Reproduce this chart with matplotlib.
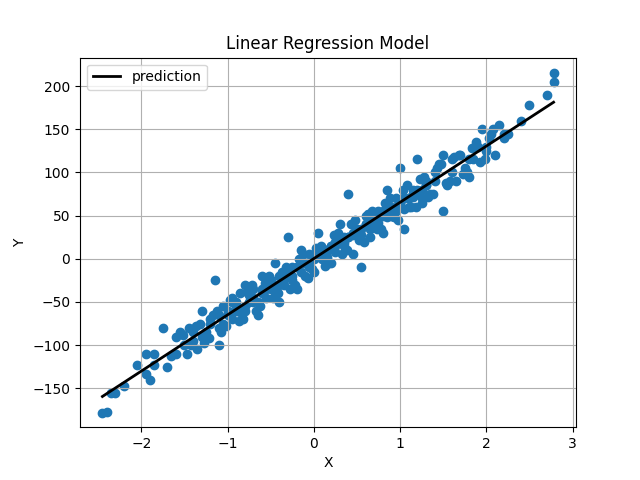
import matplotlib
matplotlib.use("Agg")
import matplotlib.pyplot as plt
import numpy as np

x_vals = [-2.45,-2.4,-2.35,-2.3,-2.2,-2.05,-1.95,-1.95,-1.9,-1.85,-1.85,-1.75,-1.7,-1.65,-1.6,-1.55,-1.5,-1.45,-1.4,-1.35,-1.3,-1.25,-1.2,-1.15,-1.1,-1.05,-1.0,-0.95,-0.9,-0.85,-0.8,-0.75,-0.7,-0.65,-0.6,-0.55,-0.5,-0.45,-0.4,-0.35,-0.3,-0.25,-0.2,-0.15,-0.1,-0.05,0.0,0.05,0.1,0.15,0.2,0.25,0.3,0.35,0.4,0.45,0.5,0.55,0.6,0.65,0.7,0.75,0.8,0.85,0.9,0.95,1.0,1.05,1.1,1.15,1.2,1.25,1.3,1.35,1.4,1.45,1.5,1.5,1.55,1.6,1.65,1.7,1.75,1.8,1.85,1.9,1.95,2.0,2.05,2.1,2.15,2.2,2.25,2.4,2.5,2.7,2.78,2.78,
          -1.6,-1.4,-1.3,-1.2,-1.1,-1.0,-0.95,-0.9,-0.8,-0.75,-0.7,-0.6,-0.55,-0.5,-0.45,-0.4,-0.35,-0.3,-0.25,-0.2,-0.15,-0.1,-0.05,0.0,0.05,0.1,0.15,0.2,0.25,0.3,0.35,0.4,0.45,0.5,0.55,0.6,0.65,0.7,0.75,0.8,0.85,0.9,0.95,1.0,1.05,1.1,1.15,1.2,1.25,1.3,1.4,1.6,1.8,2.0,2.2,
          -1.1,-0.9,-0.7,-0.5,-0.3,-0.1,0.1,0.3,0.5,0.7,0.9,1.1,1.3,-0.8,-0.6,-0.4,-0.2,0.0,0.2,0.4,0.6,0.8,1.0,1.2,
          -1.52,-1.42,-1.32,-1.22,-1.12,-1.02,-0.92,-0.82,-0.72,-0.62,-0.52,-0.42,-0.32,-0.22,-0.12,-0.02,0.08,0.18,0.28,0.38,0.48,0.58,0.68,0.78,0.88,0.98,1.08,1.18,1.28,1.38,1.48,1.58,1.68,1.78,1.88,1.98,2.08,
          -1.47,-1.37,-1.27,-1.17,-1.07,-0.97,-0.87,-0.77,-0.67,-0.57,-0.47,-0.37,-0.27,-0.17,-0.07,0.03,0.13,0.23,0.33,0.43,0.53,0.63,0.73,0.83,0.93,1.03,1.13,1.23,1.33,1.43,1.53,1.63,1.73,1.83,1.93,2.03,
          -1.05,-0.85,-0.65,-0.45,-0.25,-0.05,0.15,0.35,0.55,0.75,0.95,1.15,-0.95,-0.75,-0.55,-0.35,-0.15,0.05,0.25,0.45,0.65,0.85,1.05,1.25]
y_vals = [-178,-177,-155,-155,-147,-123,-110,-133,-140,-110,-123,-80,-125,-112,-90,-85,-100,-80,-95,-105,-60,-85,-75,-25,-100,-55,-65,-45,-60,-40,-30,-50,-35,-65,-20,-45,-30,-5,-50,-20,25,-10,-35,10,-20,5,-15,30,0,10,-5,20,40,15,75,5,30,-10,50,25,45,55,30,80,50,70,105,35,60,80,115,65,90,75,100,110,120,55,85,115,90,120,105,95,115,130,150,125,145,120,155,140,145,160,178,190,215,205,
          -110,-85,-90,-70,-80,-60,-70,-50,-55,-40,-50,-35,-35,-25,-30,-20,-30,-15,-20,-10,-15,-5,-10,0,5,5,10,15,15,20,25,25,30,30,35,40,40,45,50,50,55,55,60,65,70,70,75,75,80,85,90,100,115,130,145,
          -65,-55,-45,-35,-20,-5,10,20,35,45,60,70,85,-60,-40,-30,-10,5,15,25,40,55,65,80,
          -88,-100,-75,-92,-60,-78,-50,-70,-30,-55,-20,-40,-10,-30,5,-12,15,-5,30,10,45,20,55,35,70,45,85,60,95,75,110,90,120,100,135,115,150,
          -110,-78,-98,-65,-85,-48,-72,-38,-60,-28,-45,-15,-35,0,-22,12,-8,28,5,40,22,52,35,65,48,80,60,92,72,105,88,118,98,128,112,140,
          -75,-62,-50,-38,-25,-8,2,18,28,42,55,72,-50,-42,-28,-22,-2,10,8,28,35,48,58,70]

x = np.array(x_vals)
y = np.array(y_vals)
slope, intercept = np.polyfit(x, y, 1)
xs = np.sort(x)

fig, ax = plt.subplots(figsize=(6.4, 4.8), dpi=100)
ax.scatter(x, y, color="#1f77b4")
ax.plot(xs, slope * xs + intercept, color="black", linewidth=2, label="prediction")
ax.set_title("Linear Regression Model")
ax.set_xlabel("X")
ax.set_ylabel("Y")
ax.set_xlim(-2.71, 3.04)
ax.set_ylim(-195, 233)
ax.grid(True)
ax.legend(loc="upper left")
fig.savefig("out.png")
